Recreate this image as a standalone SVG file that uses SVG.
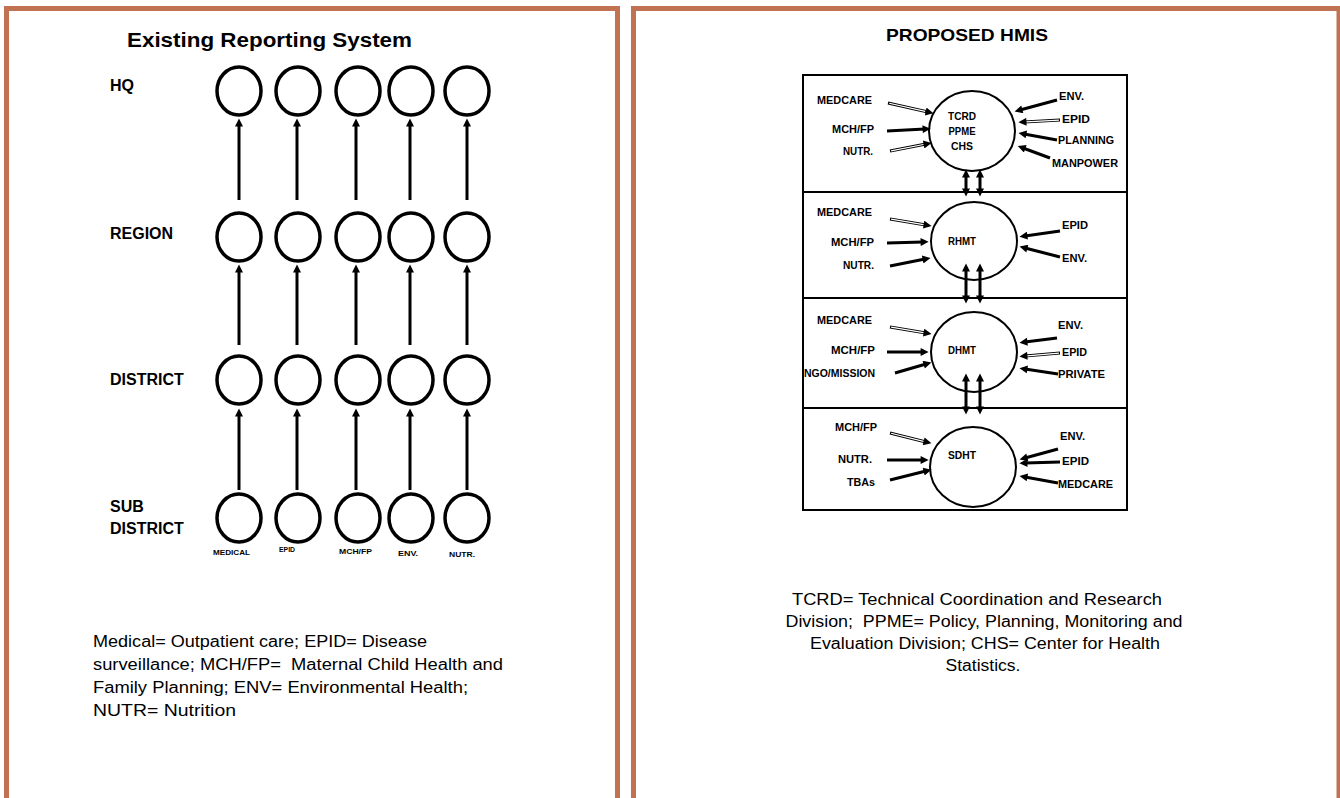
<svg xmlns="http://www.w3.org/2000/svg" width="1340" height="798" viewBox="0 0 1340 798">
<defs>
<style>
.frame{fill:none;stroke:#C17252;stroke-width:5}
.t{font-family:"Liberation Sans",Arial,sans-serif;fill:#000}
.b{font-weight:bold}
.lv{font-size:16px;font-weight:bold}
.sm{font-size:11px;font-weight:bold}
.tiny{font-size:7px;font-weight:bold}
.leg{font-size:16px}
.c{fill:none;stroke:#000;stroke-width:3.5}
.c2{fill:none;stroke:#000;stroke-width:2}
.box{fill:none;stroke:#000;stroke-width:2}
.la{fill:none;stroke:#000;stroke-width:3;marker-end:url(#ahL)}
.ra{fill:none;stroke:#000;stroke-width:3;marker-end:url(#ahR)}
.hw{fill:none;stroke:#fff;stroke-width:1.2}
.da{fill:none;stroke:#000;stroke-width:3;marker-end:url(#ahR);marker-start:url(#ahR)}
</style>
<marker id="ahL" viewBox="0 0 10 10" markerUnits="userSpaceOnUse" markerWidth="12" markerHeight="8" refX="3" refY="5" orient="auto"><path d="M0,0 L10,5 L0,10 z" fill="#000"/></marker>
<marker id="ahR" viewBox="0 0 10 10" markerUnits="userSpaceOnUse" markerWidth="10" markerHeight="8" refX="3" refY="5" orient="auto-start-reverse"><path d="M0,0 L10,5 L0,10 z" fill="#000"/></marker>
</defs>
<rect width="1340" height="798" fill="#fff"/>
<rect class="frame" x="6.5" y="8.5" width="611" height="810"/>
<rect class="frame" x="633.5" y="8.5" width="705.5" height="810"/>

<g id="left-panel">
<text class="t b" x="127" y="47" font-size="20" textLength="285" lengthAdjust="spacingAndGlyphs">Existing Reporting System</text>
<g id="level-labels">
<text class="t lv" x="110" y="91">HQ</text>
<text class="t lv" x="110" y="239">REGION</text>
<text class="t lv" x="110" y="385">DISTRICT</text>
<text class="t lv" x="110" y="512">SUB</text>
<text class="t lv" x="110" y="534">DISTRICT</text>
</g>
<g id="hq">
<ellipse class="c" cx="239" cy="91" rx="22" ry="24"/>
<ellipse class="c" cx="298" cy="91" rx="22" ry="24"/>
<ellipse class="c" cx="358" cy="91" rx="22" ry="24"/>
<ellipse class="c" cx="411" cy="91" rx="22" ry="24"/>
<ellipse class="c" cx="467" cy="91" rx="22" ry="24"/>
</g>
<g id="region">
<ellipse class="c" cx="239" cy="237" rx="22" ry="24"/>
<ellipse class="c" cx="298" cy="237" rx="22" ry="24"/>
<ellipse class="c" cx="358" cy="237" rx="22" ry="24"/>
<ellipse class="c" cx="411" cy="237" rx="22" ry="24"/>
<ellipse class="c" cx="467" cy="237" rx="22" ry="24"/>
</g>
<g id="district">
<ellipse class="c" cx="239" cy="380" rx="22" ry="24"/>
<ellipse class="c" cx="298" cy="380" rx="22" ry="24"/>
<ellipse class="c" cx="358" cy="380" rx="22" ry="24"/>
<ellipse class="c" cx="411" cy="380" rx="22" ry="24"/>
<ellipse class="c" cx="467" cy="380" rx="22" ry="24"/>
</g>
<g id="sub-district">
<ellipse class="c" cx="239" cy="518" rx="22" ry="24"/>
<ellipse class="c" cx="298" cy="518" rx="22" ry="24"/>
<ellipse class="c" cx="358" cy="518" rx="22" ry="24"/>
<ellipse class="c" cx="411" cy="518" rx="22" ry="24"/>
<ellipse class="c" cx="467" cy="518" rx="22" ry="24"/>
<text class="t tiny" x="213" y="555" textLength="37" lengthAdjust="spacingAndGlyphs">MEDICAL</text>
<text class="t tiny" x="279" y="552" textLength="16" lengthAdjust="spacingAndGlyphs">EPID</text>
<text class="t tiny" x="339" y="554" textLength="33" lengthAdjust="spacingAndGlyphs">MCH/FP</text>
<text class="t tiny" x="398" y="556" textLength="20" lengthAdjust="spacingAndGlyphs">ENV.</text>
<text class="t tiny" x="449" y="557" textLength="26" lengthAdjust="spacingAndGlyphs">NUTR.</text>
</g>
<g id="left-legend">
<text class="t leg" x="93" y="647" textLength="334" lengthAdjust="spacingAndGlyphs">Medical= Outpatient care; EPID= Disease</text>
<text class="t leg" x="93" y="670" textLength="410" lengthAdjust="spacingAndGlyphs">surveillance; MCH/FP=&#160; Maternal Child Health and</text>
<text class="t leg" x="93" y="693" textLength="375" lengthAdjust="spacingAndGlyphs">Family Planning; ENV= Environmental Health;</text>
<text class="t leg" x="93" y="716" textLength="143" lengthAdjust="spacingAndGlyphs">NUTR= Nutrition</text>
</g>
</g>

<g id="right-panel">
<text class="t b" x="886" y="41" font-size="17" textLength="162" lengthAdjust="spacingAndGlyphs">PROPOSED HMIS</text>
<g id="levels-box">
<rect class="box" x="803" y="75" width="324" height="435"/>
<line class="box" x1="803" y1="192" x2="1127" y2="192"/>
<line class="box" x1="803" y1="298" x2="1127" y2="298"/>
<line class="box" x1="803" y1="408" x2="1127" y2="408"/>
</g>
<g id="tcrd">
<ellipse class="c2" cx="972" cy="131" rx="43" ry="40"/>
<text class="t sm" x="962" y="120" text-anchor="middle" textLength="28" lengthAdjust="spacingAndGlyphs">TCRD</text>
<text class="t sm" x="962" y="135" text-anchor="middle" textLength="27" lengthAdjust="spacingAndGlyphs">PPME</text>
<text class="t sm" x="962" y="150" text-anchor="middle" textLength="22" lengthAdjust="spacingAndGlyphs">CHS</text>
<text class="t sm" x="817" y="104" textLength="55" lengthAdjust="spacingAndGlyphs">MEDCARE</text>
<text class="t sm" x="832" y="133" textLength="42" lengthAdjust="spacingAndGlyphs">MCH/FP</text>
<text class="t sm" x="843" y="155" textLength="30" lengthAdjust="spacingAndGlyphs">NUTR.</text>
<text class="t sm" x="1059" y="100" textLength="25" lengthAdjust="spacingAndGlyphs">ENV.</text>
<text class="t sm" x="1062" y="123" textLength="28" lengthAdjust="spacingAndGlyphs">EPID</text>
<text class="t sm" x="1058" y="144" textLength="56" lengthAdjust="spacingAndGlyphs">PLANNING</text>
<text class="t sm" x="1052" y="167" textLength="66" lengthAdjust="spacingAndGlyphs">MANPOWER</text>
</g>
<g id="rhmt">
<ellipse class="c2" cx="974" cy="241" rx="43" ry="39"/>
<text class="t sm" x="962" y="245" text-anchor="middle" textLength="28" lengthAdjust="spacingAndGlyphs">RHMT</text>
<text class="t sm" x="817" y="216" textLength="55" lengthAdjust="spacingAndGlyphs">MEDCARE</text>
<text class="t sm" x="831" y="246" textLength="43" lengthAdjust="spacingAndGlyphs">MCH/FP</text>
<text class="t sm" x="843" y="269" textLength="31" lengthAdjust="spacingAndGlyphs">NUTR.</text>
<text class="t sm" x="1062" y="229" textLength="26" lengthAdjust="spacingAndGlyphs">EPID</text>
<text class="t sm" x="1062" y="262" textLength="25" lengthAdjust="spacingAndGlyphs">ENV.</text>
</g>
<g id="dhmt">
<ellipse class="c2" cx="974" cy="352" rx="43" ry="40"/>
<text class="t sm" x="962" y="354" text-anchor="middle" textLength="28" lengthAdjust="spacingAndGlyphs">DHMT</text>
<text class="t sm" x="817" y="324" textLength="55" lengthAdjust="spacingAndGlyphs">MEDCARE</text>
<text class="t sm" x="831" y="354" textLength="44" lengthAdjust="spacingAndGlyphs">MCH/FP</text>
<text class="t sm" x="804" y="377" textLength="71" lengthAdjust="spacingAndGlyphs">NGO/MISSION</text>
<text class="t sm" x="1058" y="329" textLength="25" lengthAdjust="spacingAndGlyphs">ENV.</text>
<text class="t sm" x="1062" y="356" textLength="25" lengthAdjust="spacingAndGlyphs">EPID</text>
<text class="t sm" x="1058" y="378" textLength="47" lengthAdjust="spacingAndGlyphs">PRIVATE</text>
</g>
<g id="sdht">
<ellipse class="c2" cx="973" cy="467" rx="43" ry="40"/>
<text class="t sm" x="962" y="459" text-anchor="middle" textLength="28" lengthAdjust="spacingAndGlyphs">SDHT</text>
<text class="t sm" x="835" y="431" textLength="42" lengthAdjust="spacingAndGlyphs">MCH/FP</text>
<text class="t sm" x="838" y="463" textLength="34" lengthAdjust="spacingAndGlyphs">NUTR.</text>
<text class="t sm" x="847" y="486" textLength="28" lengthAdjust="spacingAndGlyphs">TBAs</text>
<text class="t sm" x="1060" y="440" textLength="25" lengthAdjust="spacingAndGlyphs">ENV.</text>
<text class="t sm" x="1062" y="465" textLength="27" lengthAdjust="spacingAndGlyphs">EPID</text>
<text class="t sm" x="1058" y="488" textLength="55" lengthAdjust="spacingAndGlyphs">MEDCARE</text>
</g>
<g id="right-legend">
<text class="t leg" x="977" y="605" text-anchor="middle" textLength="370" lengthAdjust="spacingAndGlyphs">TCRD= Technical Coordination and Research</text>
<text class="t leg" x="984" y="627" text-anchor="middle" textLength="397" lengthAdjust="spacingAndGlyphs">Division;&#160; PPME= Policy, Planning, Monitoring and</text>
<text class="t leg" x="985" y="649" text-anchor="middle" textLength="350" lengthAdjust="spacingAndGlyphs">Evaluation Division; CHS= Center for Health</text>
<text class="t leg" x="983" y="671" text-anchor="middle" textLength="75" lengthAdjust="spacingAndGlyphs">Statistics.</text>
</g>
</g>

<g id="connectors">
<g id="left-arrows">
<path class="la" d="M239,200 V124"/>
<path class="la" d="M297,200 V124"/>
<path class="la" d="M356,200 V124"/>
<path class="la" d="M410,200 V124"/>
<path class="la" d="M467,200 V124"/>
<path class="la" d="M239,345 V270"/>
<path class="la" d="M297,345 V270"/>
<path class="la" d="M356,345 V270"/>
<path class="la" d="M410,345 V270"/>
<path class="la" d="M467,345 V270"/>
<path class="la" d="M239,490 V414"/>
<path class="la" d="M297,490 V414"/>
<path class="la" d="M356,490 V414"/>
<path class="la" d="M410,490 V414"/>
<path class="la" d="M467,490 V414"/>
</g>
<g id="right-arrows">
<path class="ra" d="M888,103 L928,112"/><path class="hw" d="M888,103 L928,112" pathLength="100" stroke-dasharray="0 3 90 100"/>
<path class="ra" d="M887,131 L925,129"/>
<path class="ra" d="M890,151 L926,144"/><path class="hw" d="M890,151 L926,144" pathLength="100" stroke-dasharray="0 3 90 100"/>
<path class="ra" d="M1057,100 L1020,110"/>
<path class="ra" d="M1060,120 L1024,122"/><path class="hw" d="M1060,120 L1024,122" pathLength="100" stroke-dasharray="0 3 90 100"/>
<path class="ra" d="M1057,140 L1024,134"/>
<path class="ra" d="M1050,158 L1023,148"/>

<path class="ra" d="M890,219 L926,225"/><path class="hw" d="M890,219 L926,225" pathLength="100" stroke-dasharray="0 3 90 100"/>
<path class="ra" d="M887,243 L923,242"/>
<path class="ra" d="M890,266 L925,259"/>
<path class="ra" d="M1060,231 L1025,236"/>
<path class="ra" d="M1060,257 L1025,248"/>

<path class="ra" d="M890,327 L926,333"/><path class="hw" d="M890,327 L926,333" pathLength="100" stroke-dasharray="0 3 90 100"/>
<path class="ra" d="M887,352 L923,352"/>
<path class="ra" d="M895,373 L926,364"/>
<path class="ra" d="M1057,338 L1025,342"/>
<path class="ra" d="M1060,353 L1025,356"/><path class="hw" d="M1060,353 L1025,356" pathLength="100" stroke-dasharray="0 3 90 100"/>
<path class="ra" d="M1058,374 L1025,369"/>

<path class="ra" d="M890,433 L926,442"/><path class="hw" d="M890,433 L926,442" pathLength="100" stroke-dasharray="0 3 90 100"/>
<path class="ra" d="M887,460 L923,460"/>
<path class="ra" d="M890,480 L926,471"/>
<path class="ra" d="M1058,449 L1025,458"/>
<path class="ra" d="M1060,462 L1025,463"/>
<path class="ra" d="M1058,483 L1025,477"/>
</g>
<g id="level-links">
<path class="da" d="M966,175 V191"/>
<path class="da" d="M980,175 V191"/>
<path class="da" d="M966,269 V298"/>
<path class="da" d="M980,269 V298"/>
<path class="da" d="M966,379 V409"/>
<path class="da" d="M980,379 V409"/>
</g>
</g>
</svg>
